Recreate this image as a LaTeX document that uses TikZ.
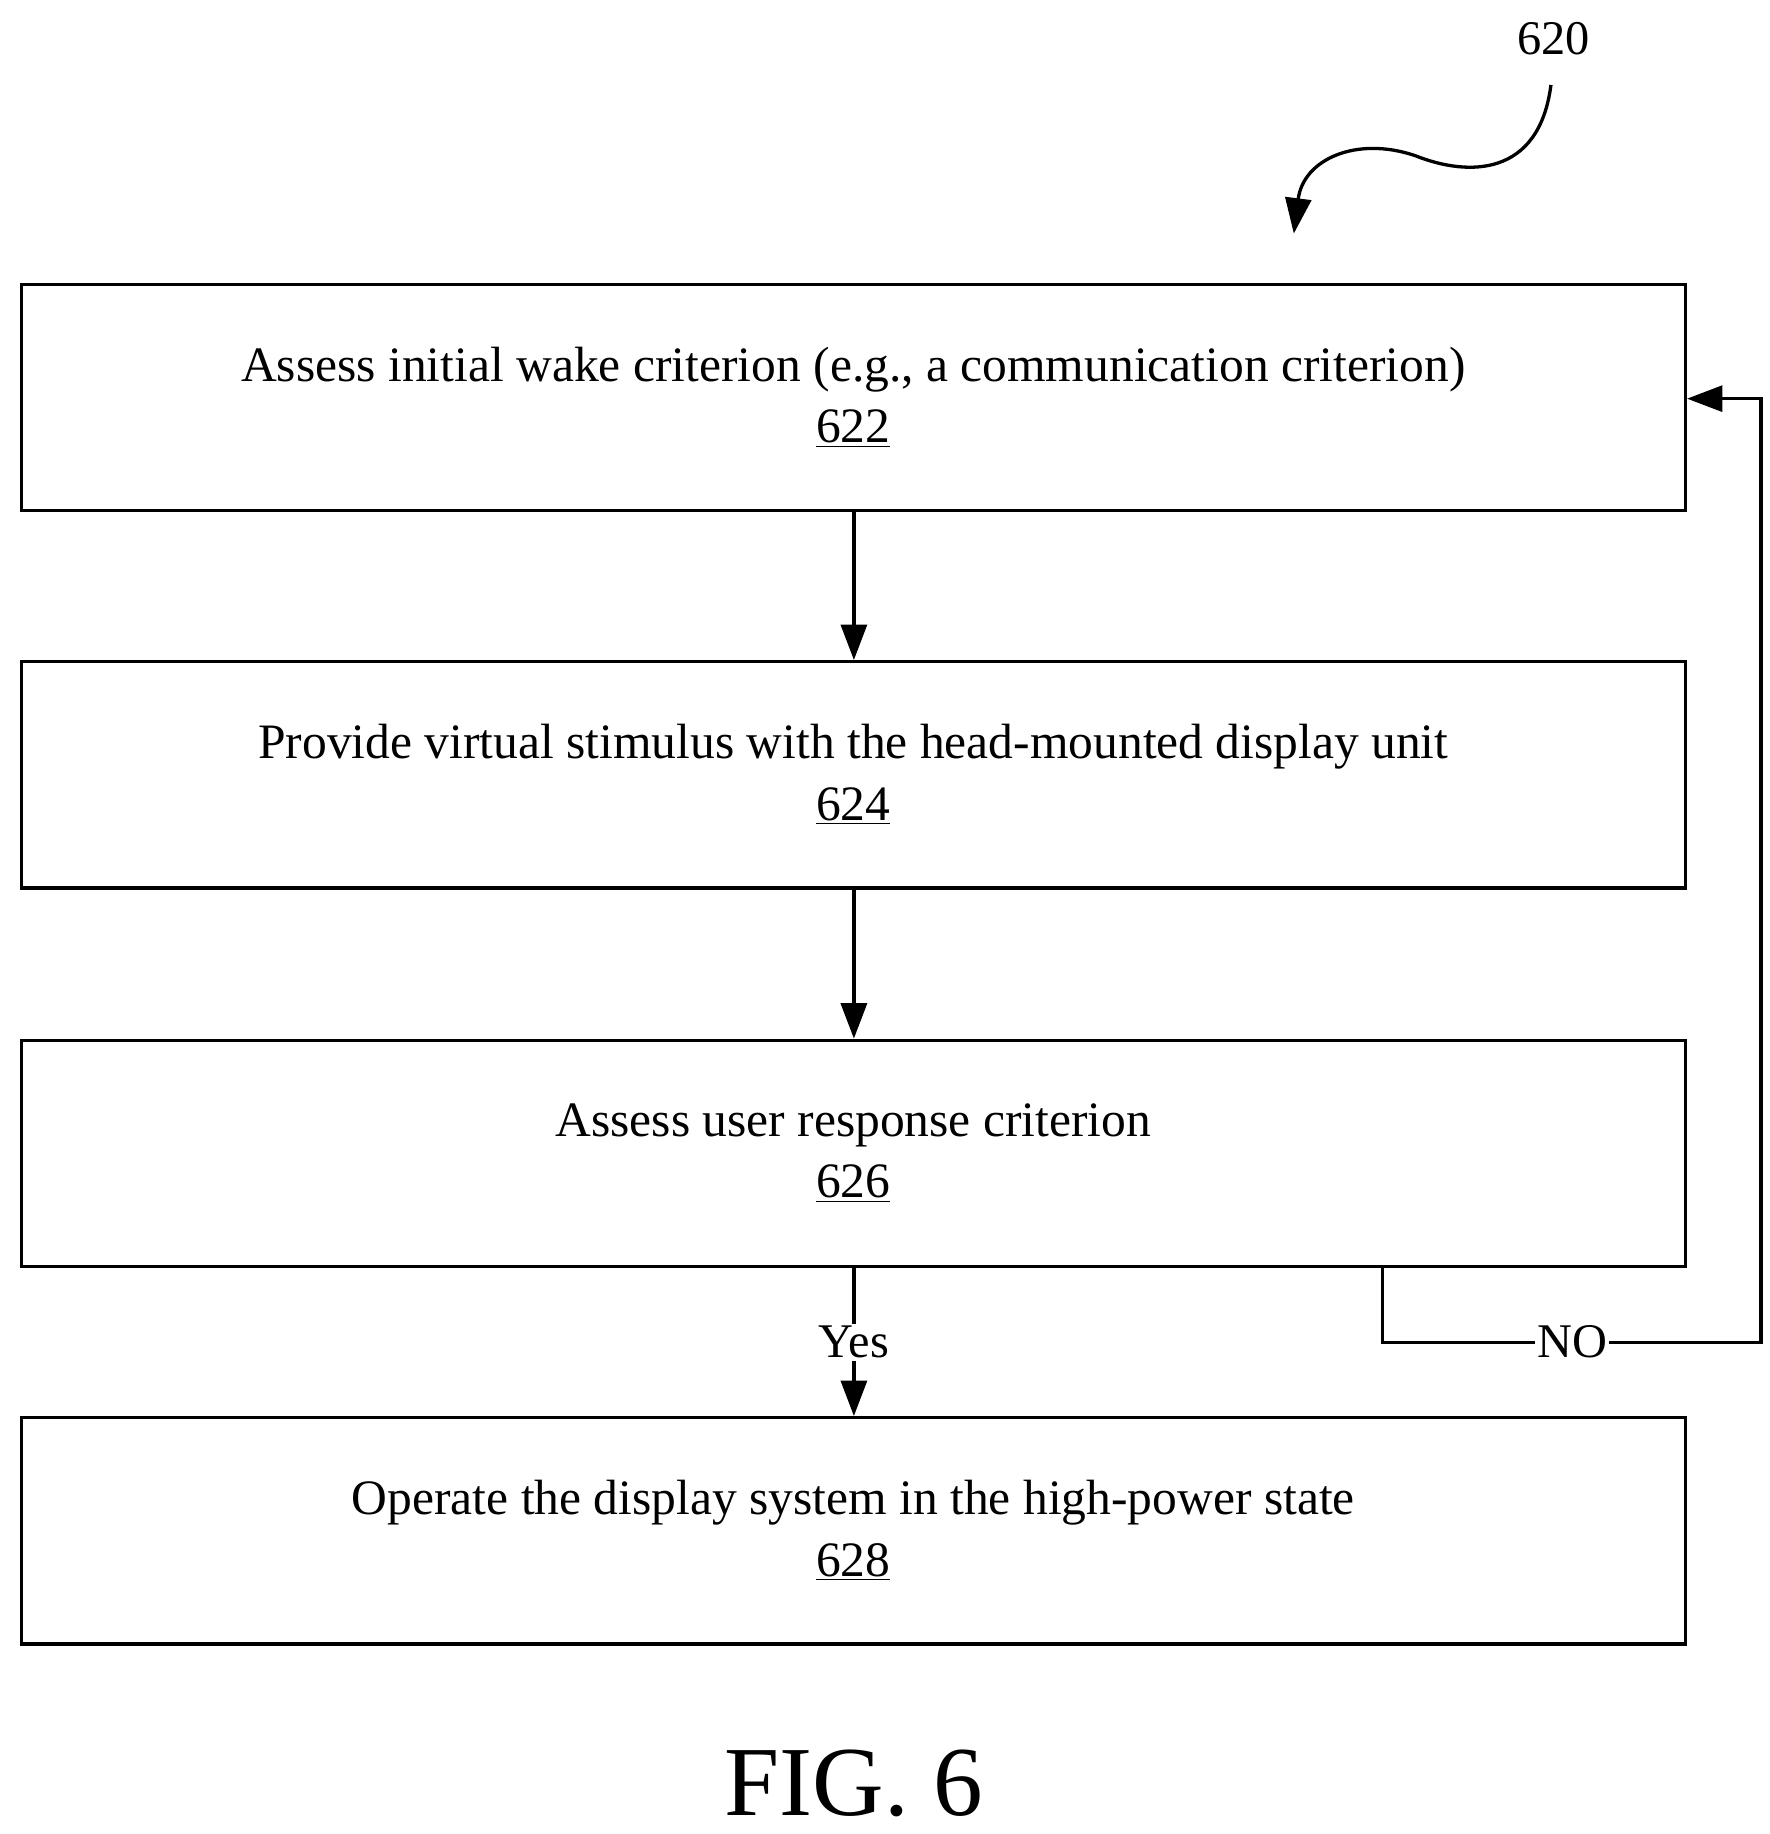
\documentclass[tikz,border=0pt]{standalone}
\usepackage{fontspec}
\setmainfont{Liberation Serif}
\usetikzlibrary{arrows.meta}
\begin{document}
\begin{tikzpicture}[x=0.5pt,y=-0.5pt,
  box/.style={draw,line width=1.4pt,minimum width=705.5pt,minimum height=96pt,align=center,font=\fontsize{21}{26}\selectfont,inner sep=0pt},
  arr/.style={line width=1.4pt,-{Triangle[length=15pt,width=11pt]}},
  lbl/.style={font=\fontsize{20.5}{24}\selectfont,fill=white,inner sep=1pt}]
\useasboundingbox (0,0) rectangle (1500,1555);
\node[box] (b1) at (723.5,337) {Assess initial wake criterion (e.g., a communication criterion)\\\underline{622}};
\node[box] (b2) at (723.5,657) {Provide virtual stimulus with the head-mounted display unit\\\underline{624}};
\node[box] (b3) at (723.5,978) {Assess user response criterion\\\underline{626}};
\node[box] (b4) at (723.5,1298) {Operate the display system in the high-power state\\\underline{628}};
\draw[arr] (b1.south -| 724,0) -- (b2.north -| 724,0);
\draw[arr] (b2.south -| 724,0) -- (b3.north -| 724,0);
\draw[arr] (b3.south -| 724,0) -- (b4.north -| 724,0);
\node[lbl] (yes) at (724,1138) {Yes};
\coordinate (n0) at (1172,1074);
\draw[arr] (n0) -- (1172,1138) -- (1493,1138) -- (1493,338) -- (b1.east |- 0,338);
\node[lbl] (no) at (1333,1138) {NO};
\node[font=\fontsize{20.5}{24}\selectfont] (r) at (1317,33) {620};
\coordinate (s0) at (1315,72);
\coordinate (s1) at (1097,198);
\draw[arr] (s0) .. controls (1305,150) and (1245,150) .. (1200,132) .. controls (1150,115) and (1105,135) .. (s1);
\node[font=\fontsize{42}{48}\selectfont] (fig) at (724,1512) {FIG. 6};
\end{tikzpicture}
\end{document}
